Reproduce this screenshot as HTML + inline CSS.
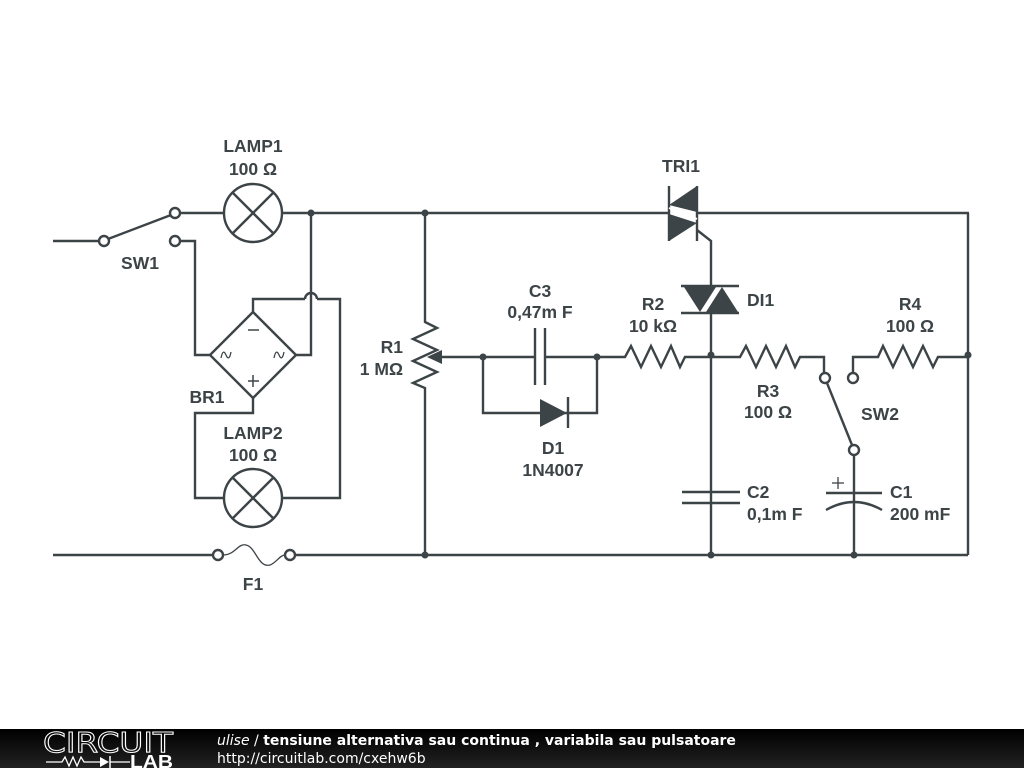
<!DOCTYPE html>
<html><head><meta charset="utf-8"><style>
html,body{margin:0;padding:0;background:#fff}
svg{display:block}
.l{font-family:"Liberation Sans",Arial,sans-serif;font-weight:bold;font-size:17.5px;fill:#3d4447}
</style></head><body>
<svg width="1024" height="768" viewBox="0 0 1024 768" xmlns="http://www.w3.org/2000/svg">
<rect width="1024" height="768" fill="#fff"/>
<g stroke="#3d4447" stroke-width="2.4" fill="none">
<line x1="53" y1="241" x2="99" y2="241"/>
<line x1="108" y1="239" x2="171" y2="215"/>
<circle cx="104" cy="241" r="5"/>
<circle cx="175" cy="213" r="5"/>
<circle cx="175" cy="241" r="5"/>
<line x1="180" y1="213" x2="224" y2="213"/>
<circle cx="253" cy="213" r="29"/>
<line x1="232" y1="192" x2="274" y2="234"/><line x1="274" y1="192" x2="232" y2="234"/>
<line x1="282" y1="213" x2="669" y2="213"/>
<line x1="697" y1="213" x2="969" y2="213"/>
<line x1="968" y1="213" x2="968" y2="555"/>
<polyline points="180,241 195,241 195,355 210,355"/>
<polygon points="253,312 296,355 253,398 210,355"/>
<polyline points="296,355 311,355 311,213"/>
<polyline points="253,312 253,299 305,299"/>
<path d="M305,299 A6,6 0 0 1 317,299"/>
<polyline points="317,299 340,299 340,498 282,498"/>
<polyline points="253,398 253,413 195,413 195,498 224,498"/>
<circle cx="253" cy="498" r="29"/>
<line x1="232" y1="477" x2="274" y2="519"/><line x1="274" y1="477" x2="232" y2="519"/>
<line x1="248" y1="330" x2="259" y2="330" stroke-width="1.5"/>
<line x1="248" y1="381" x2="259" y2="381" stroke-width="1.5"/><line x1="253" y1="375" x2="253" y2="387" stroke-width="1.5"/>
<path d="M221,358 q2,-10 5,-3 q3,7 5,-3" stroke-width="1.3"/>
<path d="M274,358 q2,-10 5,-3 q3,7 5,-3" stroke-width="1.3"/>
<line x1="53" y1="555" x2="213" y2="555"/>
<circle cx="218" cy="555" r="5"/><circle cx="290" cy="555" r="5"/>
<path d="M223,555 C235,555 238,543 246,545 C256,547 258,568 270,565 C276,563 280,555 285,555" stroke-width="1.3"/>
<line x1="295" y1="555" x2="968" y2="555"/>
<polyline points="425,213 425,322 437,328 413,339 437,350 413,361 437,372 413,383 425,388 425,555"/>
<line x1="483" y1="357" x2="436" y2="357"/>
<polygon points="427,357 442,350 442,364" fill="#3d4447" stroke="none"/>
<line x1="483" y1="357" x2="535" y2="357"/>
<line x1="535" y1="328" x2="535" y2="385"/><line x1="545" y1="328" x2="545" y2="385"/>
<line x1="545" y1="357" x2="620" y2="357"/>
<polyline points="483,357 483,413 597,413 597,357"/>
<line x1="568" y1="397" x2="568" y2="428"/>
<polyline points="620,357 625,357 631,346 641,367 651,346 661,367 671,346 680,367 685,357 735,357"/>
<polyline points="735,357 740,357 746,346 756,367 766,346 776,367 786,346 795,367 800,357 824,357 824,373"/>
<circle cx="825" cy="378" r="5"/>
<line x1="827" y1="383" x2="852" y2="445"/>
<circle cx="854" cy="450" r="5"/>
<circle cx="853" cy="378" r="5"/>
<polyline points="853,373 853,357 878,357 883,346 893,367 903,346 913,367 923,346 933,367 938,357 968,357"/>
<polyline points="697,230 711,241 711,287"/>
<line x1="669" y1="186" x2="669" y2="241"/><line x1="697" y1="186" x2="697" y2="241"/>
<line x1="681" y1="286" x2="739" y2="286"/><line x1="681" y1="313" x2="739" y2="313"/>
<line x1="711" y1="313" x2="711" y2="555"/>
<line x1="682" y1="492" x2="740" y2="492"/><line x1="682" y1="503" x2="740" y2="503"/>
<line x1="854" y1="455" x2="854" y2="555"/>
<line x1="826" y1="493" x2="882" y2="493"/>
<path d="M826,510 Q854,494 882,510"/>
<line x1="832" y1="483" x2="844" y2="483" stroke-width="1.3"/><line x1="838" y1="477" x2="838" y2="489" stroke-width="1.3"/>
</g>
<g fill="#3d4447">
<polygon points="697,186 697,212 669,205"/>
<polygon points="669,214 669,241 697,223"/>
<line x1="669" y1="208" x2="697" y2="219" stroke="#fff" stroke-width="2"/>
<polygon points="684,287 716,287 700,312"/>
<polygon points="722,287 738,312 706,312"/>
<polygon points="540,399 540,427 567,413"/>
<circle cx="311" cy="213" r="3.5"/><circle cx="425" cy="213" r="3.5"/>
<circle cx="483" cy="357" r="3.5"/><circle cx="597" cy="357" r="3.5"/>
<circle cx="711" cy="355" r="3.5"/><circle cx="968" cy="355" r="3.5"/>
<circle cx="425" cy="555" r="3.5"/><circle cx="711" cy="555" r="3.5"/><circle cx="854" cy="555" r="3.5"/>
</g>
<g class="l">
<text x="253" y="152" text-anchor="middle">LAMP1</text>
<text x="253" y="175" text-anchor="middle">100 Ω</text>
<text x="140" y="269" text-anchor="middle">SW1</text>
<text x="207" y="403" text-anchor="middle">BR1</text>
<text x="253" y="439" text-anchor="middle">LAMP2</text>
<text x="253" y="461" text-anchor="middle">100 Ω</text>
<text x="253" y="590" text-anchor="middle">F1</text>
<text x="403" y="353" text-anchor="end">R1</text>
<text x="403" y="375" text-anchor="end">1 MΩ</text>
<text x="540" y="297" text-anchor="middle">C3</text>
<text x="540" y="318" text-anchor="middle">0,47m F</text>
<text x="553" y="454" text-anchor="middle">D1</text>
<text x="553" y="476" text-anchor="middle">1N4007</text>
<text x="681" y="172" text-anchor="middle">TRI1</text>
<text x="747" y="306">DI1</text>
<text x="653" y="310" text-anchor="middle">R2</text>
<text x="653" y="332" text-anchor="middle">10 kΩ</text>
<text x="768" y="397" text-anchor="middle">R3</text>
<text x="768" y="418" text-anchor="middle">100 Ω</text>
<text x="910" y="310" text-anchor="middle">R4</text>
<text x="910" y="332" text-anchor="middle">100 Ω</text>
<text x="880" y="420" text-anchor="middle">SW2</text>
<text x="747" y="498">C2</text>
<text x="747" y="520">0,1m F</text>
<text x="890" y="498">C1</text>
<text x="890" y="520">200 mF</text>
</g>
<defs><linearGradient id="g" x1="0" y1="0" x2="0" y2="1"><stop offset="0" stop-color="#000"/><stop offset="1" stop-color="#222"/></linearGradient></defs>
<rect x="0" y="729" width="1024" height="39" fill="url(#g)"/>
<text x="43" y="752" font-family="DejaVu Sans,sans-serif" font-size="28" textLength="130" lengthAdjust="spacingAndGlyphs" fill="none" stroke="#fff" stroke-width="1">CIRCUIT</text>
<polyline points="46,762 62,762 65,757 69,766 73,757 77,766 81,757 84,762 100,762" stroke="#fff" stroke-width="1.3" fill="none"/>
<polygon points="100,757 100,767 109,762" fill="#fff"/><line x1="110" y1="756" x2="110" y2="768" stroke="#fff" stroke-width="1.5"/>
<line x1="110" y1="762" x2="130" y2="762" stroke="#fff" stroke-width="1.3"/>
<text x="130" y="768" font-family="Liberation Sans,sans-serif" font-weight="bold" font-size="18" textLength="43" lengthAdjust="spacingAndGlyphs" fill="#fff">LAB</text>
<text x="217" y="745" font-family="DejaVu Sans,sans-serif" font-size="14" fill="#fff"><tspan font-style="italic">ulise</tspan> / <tspan font-weight="bold">tensiune alternativa sau continua , variabila sau pulsatoare</tspan></text>
<text x="217" y="763" font-family="DejaVu Sans,sans-serif" font-size="14" fill="#fff">http://circuitlab.com/cxehw6b</text>
</svg>
</body></html>
